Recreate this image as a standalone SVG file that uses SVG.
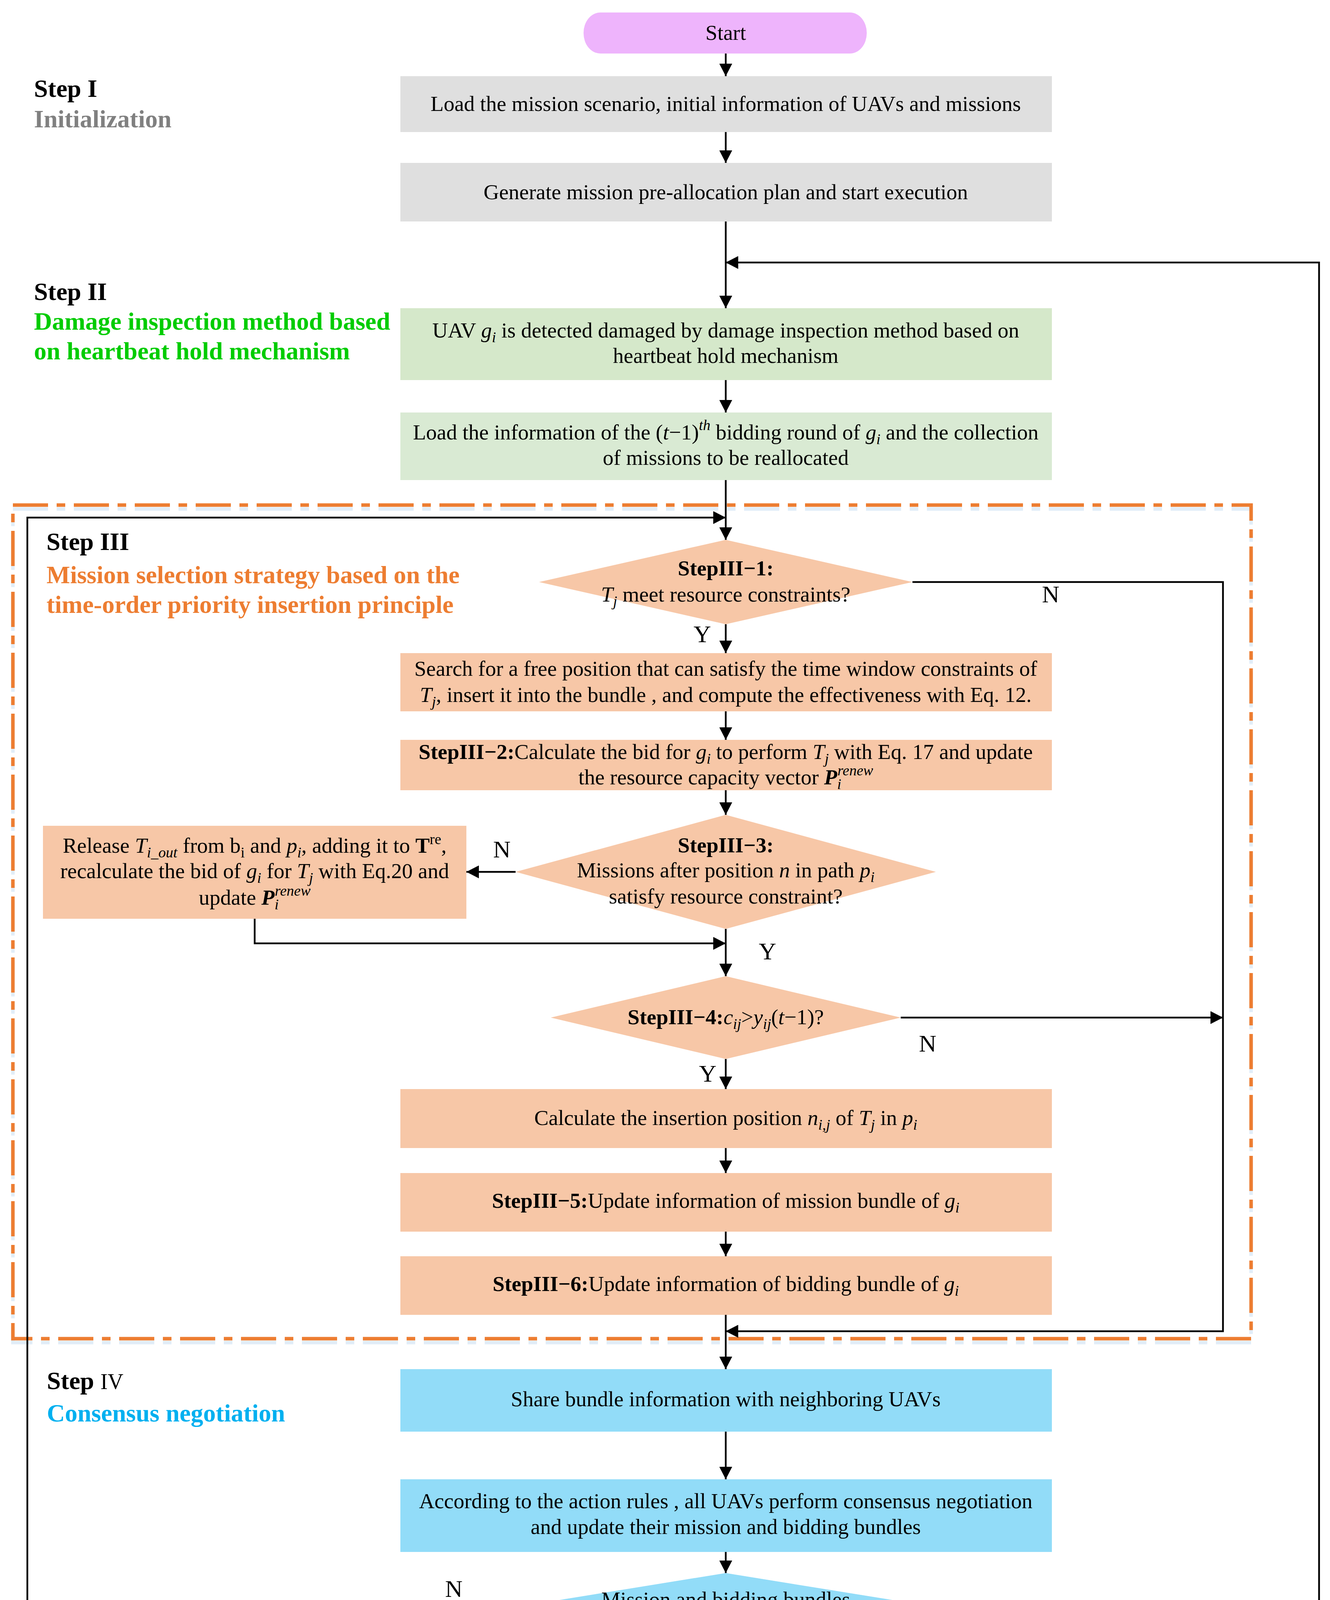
<svg xmlns="http://www.w3.org/2000/svg" width="3405" height="5020" viewBox="0 0 3405 5020">
<style>
.t{font-family:"Liberation Serif","Times New Roman",serif;font-size:55px;fill:#000;text-anchor:middle}
.lab{font-family:"Liberation Serif","Times New Roman",serif;font-size:64px;font-weight:bold}
.yn{font-family:"Liberation Serif","Times New Roman",serif;font-size:62px;fill:#000;text-anchor:middle}
.b{font-weight:bold}
.i{font-style:italic}
.s{font-size:38px}
.gray{fill:#DFDFDF}
.green1{fill:#D5E8CA}
.green2{fill:#D9EAD3}
.peach{fill:#F7C7A7}
.blue{fill:#92DCF8}
.pill{fill:#EEB4FC}
.ln{fill:none;stroke:#000;stroke-width:4.5}
</style>
<defs>
<marker id="ah" markerUnits="userSpaceOnUse" markerWidth="33" markerHeight="33" viewBox="0 0 32 33" refX="32" refY="16.5" orient="auto">
<path d="M0,0 L32,16.5 L0,33 Z" fill="#000"/>
</marker>
</defs>
<rect width="3405" height="5020" fill="#fff"/>

<g id="step3-frame">
<rect x="33" y="1303" width="3170" height="2134" fill="none" stroke="#E1EDF8" stroke-width="9" stroke-dasharray="90 22 22 22"/>
<rect x="33" y="1293" width="3170" height="2134" fill="none" stroke="#ED7D31" stroke-width="9" stroke-dasharray="90 22 22 22"/>
</g>

<g id="step-labels">
<text class="lab" x="87" y="248" fill="#000">Step I</text>
<text class="lab" x="87" y="326" fill="#808080">Initialization</text>
<text class="lab" x="87" y="768" fill="#000">Step II</text>
<text class="lab" x="87" y="844" fill="#00CC00">Damage inspection method based</text>
<text class="lab" x="87" y="920" fill="#00CC00">on heartbeat hold mechanism</text>
<text class="lab" x="119" y="1408" fill="#000">Step III</text>
<text class="lab" x="119" y="1493" fill="#ED7D31">Mission selection strategy based on the</text>
<text class="lab" x="119" y="1569" fill="#ED7D31">time-order priority insertion principle</text>
<text class="lab" x="120" y="3556" fill="#000">Step <tspan font-weight="normal" font-size="56">IV</tspan></text>
<text class="lab" x="120" y="3639" fill="#00B0F0">Consensus negotiation</text>
<text class="lab" x="119" y="4451" fill="#000">Step V</text>
<text class="lab" x="119" y="4530" fill="#808080">Output</text>
</g>

<g id="connectors">
<line class="ln" x1="1858" y1="137" x2="1858" y2="195" marker-end="url(#ah)"/>
<line class="ln" x1="1858" y1="338" x2="1858" y2="417" marker-end="url(#ah)"/>
<line class="ln" x1="1858" y1="567" x2="1858" y2="789" marker-end="url(#ah)"/>
<path class="ln" d="M2513,4719 H3377 V672 H1858" marker-end="url(#ah)"/>
<line class="ln" x1="1858" y1="973" x2="1858" y2="1056" marker-end="url(#ah)"/>
<line class="ln" x1="1858" y1="1229" x2="1858" y2="1382" marker-end="url(#ah)"/>
<path class="ln" d="M1203,4133 H70 V1325 H1858" marker-end="url(#ah)"/>
<line class="ln" x1="1858" y1="1598" x2="1858" y2="1672" marker-end="url(#ah)"/>
<path class="ln" d="M2336,1490 H3131 V3408 H1858" marker-end="url(#ah)"/>
<line class="ln" x1="1858" y1="1821" x2="1858" y2="1894" marker-end="url(#ah)"/>
<line class="ln" x1="1858" y1="2023" x2="1858" y2="2086" marker-end="url(#ah)"/>
<line class="ln" x1="1320" y1="2232" x2="1194" y2="2232" marker-end="url(#ah)"/>
<path class="ln" d="M652,2352 V2415 H1858" marker-end="url(#ah)"/>
<line class="ln" x1="1858" y1="2378" x2="1858" y2="2499" marker-end="url(#ah)"/>
<line class="ln" x1="2306" y1="2605" x2="3131" y2="2605" marker-end="url(#ah)"/>
<line class="ln" x1="1858" y1="2711" x2="1858" y2="2788" marker-end="url(#ah)"/>
<line class="ln" x1="1858" y1="2939" x2="1858" y2="3003" marker-end="url(#ah)"/>
<line class="ln" x1="1858" y1="3153" x2="1858" y2="3216" marker-end="url(#ah)"/>
<line class="ln" x1="1858" y1="3366" x2="1858" y2="3505" marker-end="url(#ah)"/>
<line class="ln" x1="1858" y1="3665" x2="1858" y2="3787" marker-end="url(#ah)"/>
<line class="ln" x1="1858" y1="3973" x2="1858" y2="4027" marker-end="url(#ah)"/>
<line class="ln" x1="1858" y1="4239" x2="1858" y2="4386" marker-end="url(#ah)"/>
<line class="ln" x1="1858" y1="4558" x2="1858" y2="4638" marker-end="url(#ah)"/>
<line class="ln" x1="1858" y1="4800" x2="1858" y2="4890" marker-end="url(#ah)"/>
<text class="yn" x="2690" y="1542">N</text>
<text class="yn" x="1798" y="1644">Y</text>
<text class="yn" x="1285" y="2195">N</text>
<text class="yn" x="1965" y="2456">Y</text>
<text class="yn" x="2375" y="2692">N</text>
<text class="yn" x="1812" y="2769">Y</text>
<text class="yn" x="1162" y="4088">N</text>
<text class="yn" x="1798" y="4305">Y</text>
<text class="yn" x="2606" y="4676">N</text>
<text class="yn" x="1798" y="4869">Y</text>
</g>

<g id="start">
<rect class="pill" x="1494" y="32" width="725" height="105" rx="43" ry="52"/>
<text class="t" x="1858" y="102">Start</text>
</g>
<g id="box1">
<rect class="gray" x="1025" y="195" width="1668" height="143"/>
<text class="t" x="1858" y="284">Load the mission scenario, initial information of UAVs and missions</text>
</g>
<g id="box2">
<rect class="gray" x="1025" y="417" width="1668" height="150"/>
<text class="t" x="1858" y="510">Generate mission pre-allocation plan and start execution</text>
</g>
<g id="box3">
<rect class="green1" x="1025" y="789" width="1668" height="184"/>
<text class="t" x="1858" y="864">UAV <tspan class="i">g</tspan><tspan class="s i" dy="12">i</tspan><tspan dy="-12"> is detected damaged by damage inspection method based on</tspan></text>
<text class="t" x="1858" y="929">heartbeat hold mechanism</text>
</g>
<g id="box4">
<rect class="green2" x="1025" y="1056" width="1668" height="173"/>
<text class="t" x="1858" y="1125">Load the information of the (<tspan class="i">t</tspan>−1)<tspan class="s i" dy="-24">th</tspan><tspan dy="24"> bidding round of </tspan><tspan class="i">g</tspan><tspan class="s i" dy="12">i</tspan><tspan dy="-12"> and the collection</tspan></text>
<text class="t" x="1858" y="1190">of missions to be reallocated</text>
</g>
<g id="step3-1">
<polygon class="peach" points="1858,1382 2336,1490 1858,1598 1380,1490"/>
<text class="t b" x="1858" y="1473">StepIII−1:</text>
<text class="t" x="1858" y="1540"><tspan class="i">T</tspan><tspan class="s i" dy="12">j</tspan><tspan dy="-12"> meet resource constraints?</tspan></text>
</g>
<g id="box5">
<rect class="peach" x="1025" y="1672" width="1668" height="149"/>
<text class="t" x="1858" y="1730">Search for a free position that can satisfy the time window constraints of</text>
<text class="t" x="1858" y="1797"><tspan class="i">T</tspan><tspan class="s i" dy="12">j</tspan><tspan dy="-12">, insert it into the bundle , and compute the effectiveness  with Eq. 12.</tspan></text>
</g>
<g id="step3-2">
<rect class="peach" x="1025" y="1894" width="1668" height="129"/>
<text class="t" x="1858" y="1943"><tspan class="b">StepIII−2:</tspan>Calculate the bid for <tspan class="i">g</tspan><tspan class="s i" dy="12">i</tspan><tspan dy="-12">  to perform </tspan><tspan class="i">T</tspan><tspan class="s i" dy="12">j</tspan><tspan dy="-12"> with Eq. 17 and update</tspan></text>
<text class="t" x="1858" y="2008">the resource capacity vector <tspan class="b i">P</tspan><tspan class="s i" dy="12">i</tspan><tspan class="s i" dx="-10" dy="-35">renew</tspan></text>
</g>
<g id="step3-3">
<polygon class="peach" points="1858,2086 2396,2232 1858,2378 1320,2232"/>
<text class="t b" x="1858" y="2182">StepIII−3:</text>
<text class="t" x="1858" y="2246">Missions after position <tspan class="i">n</tspan> in path <tspan class="i">p</tspan><tspan class="s i" dy="12">i</tspan></text>
<text class="t" x="1858" y="2313">satisfy resource constraint?</text>
</g>
<g id="release">
<rect class="peach" x="110" y="2114" width="1084" height="238"/>
<text class="t" x="652" y="2183">Release <tspan class="i">T</tspan><tspan class="s i" dy="12">i_out</tspan><tspan dy="-12"> from b</tspan><tspan class="s" dy="12">i</tspan><tspan dy="-12"> and </tspan><tspan class="i">p</tspan><tspan class="s i" dy="12">i</tspan><tspan dy="-12">, adding it to </tspan><tspan class="b">T</tspan><tspan class="s" dy="-22">re</tspan><tspan dy="22">,</tspan></text>
<text class="t" x="652" y="2248">recalculate the bid of  <tspan class="i">g</tspan><tspan class="s i" dy="12">i</tspan><tspan dy="-12"> for </tspan><tspan class="i">T</tspan><tspan class="s i" dy="12">j</tspan><tspan dy="-12"> with Eq.20 and</tspan></text>
<text class="t" x="652" y="2316">update <tspan class="b i">P</tspan><tspan class="s i" dy="12">i</tspan><tspan class="s i" dx="-10" dy="-35">renew</tspan></text>
</g>
<g id="step3-4">
<polygon class="peach" points="1858,2499 2306,2605 1858,2711 1410,2605"/>
<text class="t" x="1858" y="2622"><tspan class="b">StepIII−4:</tspan><tspan class="i">c</tspan><tspan class="s i" dy="12">ij</tspan><tspan dy="-12">&gt;</tspan><tspan class="i">y</tspan><tspan class="s i" dy="12">ij</tspan><tspan dy="-12">(</tspan><tspan class="i">t</tspan>−1)?</text>
</g>
<g id="box7">
<rect class="peach" x="1025" y="2788" width="1668" height="151"/>
<text class="t" x="1858" y="2880">Calculate the insertion position <tspan class="i">n</tspan><tspan class="s i" dy="12">i,j</tspan><tspan dy="-12"> of  </tspan><tspan class="i">T</tspan><tspan class="s i" dy="12">j</tspan><tspan dy="-12"> in </tspan><tspan class="i">p</tspan><tspan class="s i" dy="12">i</tspan></text>
</g>
<g id="step3-5">
<rect class="peach" x="1025" y="3003" width="1668" height="150"/>
<text class="t" x="1858" y="3092"><tspan class="b">StepIII−5:</tspan>Update information of mission bundle of <tspan class="i">g</tspan><tspan class="s i" dy="12">i</tspan></text>
</g>
<g id="step3-6">
<rect class="peach" x="1025" y="3216" width="1668" height="150"/>
<text class="t" x="1858" y="3305"><tspan class="b">StepIII−6:</tspan>Update information of  bidding bundle of <tspan class="i">g</tspan><tspan class="s i" dy="12">i</tspan></text>
</g>
<g id="box10">
<rect class="blue" x="1025" y="3505" width="1668" height="160"/>
<text class="t" x="1858" y="3600">Share bundle information with neighboring UAVs</text>
</g>
<g id="box11">
<rect class="blue" x="1025" y="3787" width="1668" height="186"/>
<text class="t" x="1858" y="3861">According to the action rules , all UAVs perform consensus negotiation</text>
<text class="t" x="1858" y="3927">and update their mission and bidding bundles</text>
</g>
<g id="consensus">
<polygon class="blue" points="1858,4027 2513,4133 1858,4239 1203,4133"/>
<text class="t" x="1858" y="4113">Mission and bidding bundles</text>
<text class="t" x="1858" y="4180">of all UAVs reach a consensus?</text>
</g>
<g id="box12">
<rect class="gray" x="1025" y="4386" width="1668" height="172"/>
<text class="t" x="1858" y="4488">Output mission reallocation plan</text>
</g>
<g id="completed">
<polygon class="gray" points="1858,4638 2513,4719 1858,4800 1203,4719"/>
<text class="t" x="1858" y="4699">All the missions have</text>
<text class="t" x="1858" y="4767">been completed?</text>
</g>
<g id="end">
<rect class="pill" x="1494" y="4890" width="725" height="107" rx="43" ry="53"/>
<text class="t" x="1858" y="4958">End</text>
</g>
</svg>
